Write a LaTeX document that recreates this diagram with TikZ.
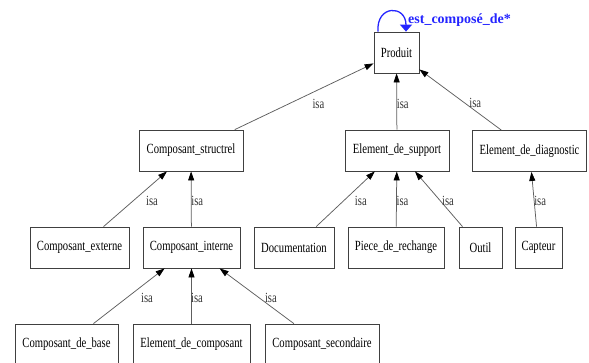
\documentclass[tikz,border=0pt]{standalone}
\usepackage{fontspec}
\setmainfont{Liberation Serif}[FakeStretch=0.76]
\newfontfamily\loopfont{Liberation Serif}
\usepackage{tikz}
\usetikzlibrary{arrows.meta,positioning}
\definecolor{boxline}{HTML}{404040}
\definecolor{edgegray}{HTML}{5E5E5E}
\definecolor{loopblue}{HTML}{2424FF}

\begin{document}
\begin{tikzpicture}[x=1pt, y=-1pt,
  cls/.style={draw=boxline, line width=0.8pt, fill=white, minimum height=41pt, inner sep=0pt, font=\fontsize{14}{16}\selectfont},
  isaedge/.style={draw=edgegray, line width=0.75pt, -{Triangle[length=9pt,width=6pt,color=black]}},
  isa/.style={font=\fontsize{14}{16}\selectfont, inner sep=0pt, text=black!80}]
  \useasboundingbox (0,0) rectangle (589,362);

  % Root class
  \node[cls, minimum width=45pt] (produit) at (396.5,52.5) {Produit};

  % Row 2: direct subclasses of Produit
  \node[cls, minimum width=104pt] (cstruct) at (191,150.5) {Composant\_structrel};
  \node[cls, minimum width=104pt] (esupport) at (397,150.5) {Element\_de\_support};
  \node[cls, minimum width=114pt] (ediag) at (529.5,151) {Element\_de\_diagnostic};

  % Row 3
  \node[cls, minimum width=99pt] (cext) at (79.5,247.5) {Composant\_externe};
  \node[cls, minimum width=97pt] (cint) at (191.5,247.5) {Composant\_interne};
  \node[cls, minimum width=80pt] (doc) at (294,247.5) {Documentation};
  \node[cls, minimum width=96pt] (piece) at (396,247.5) {Piece\_de\_rechange};
  \node[cls, minimum width=43pt] (outil) at (480.5,247.5) {Outil};
  \node[cls, minimum width=47pt] (capteur) at (538.5,247.5) {Capteur};

  % Row 4: subclasses of Composant_interne (cut by the page edge)
  \node[cls, minimum width=103pt] (cbase) at (66.5,344.5) {Composant\_de\_base};
  \node[cls, minimum width=117pt] (ecomp) at (191.5,344.5) {Element\_de\_composant};
  \node[cls, minimum width=114pt] (csec) at (322,344.5) {Composant\_secondaire};

  % isa links
  \draw[isaedge] (cstruct) -- node[isa, pos=0.39, xshift=29.5pt] (i1) {isa} (produit);
  \draw[isaedge] (esupport) -- node[isa, pos=0.456, xshift=6pt] (i2) {isa} (produit);
  \draw[isaedge] (ediag) -- node[isa, pos=0.453, xshift=11pt] (i3) {isa} (produit);

  \draw[isaedge] (cext) -- node[isa, pos=0.464, xshift=19pt] (i4) {isa} (cstruct);
  \draw[isaedge] (cint) -- node[isa, pos=0.464, xshift=6pt] (i5) {isa} (cstruct);
  \draw[isaedge] (doc) -- node[isa, pos=0.464, xshift=17.5pt] (i6) {isa} (esupport);
  \draw[isaedge] (piece) -- node[isa, pos=0.464, xshift=6pt] (i7) {isa} (esupport);
  \draw[isaedge] (outil) -- node[isa, pos=0.464, xshift=7.5pt] (i8) {isa} (esupport);
  \draw[isaedge] (capteur) -- node[isa, pos=0.464, xshift=6pt] (i9) {isa} (ediag);

  \draw[isaedge] (cbase) -- node[isa, pos=0.464, xshift=20.5pt] (i10) {isa} (cint);
  \draw[isaedge] (ecomp) -- node[isa, pos=0.464, xshift=5.5pt] (i11) {isa} (cint);
  \draw[isaedge] (csec) -- node[isa, pos=0.464, xshift=11.5pt] (i12) {isa} (cint);

  % Self loop on Produit
  \draw[loopblue, line width=1.3pt, -{Triangle[length=7pt,width=12pt]}]
    ([xshift=-18.5pt]produit.north) .. controls +(-2,-27) and +(0,-27) .. ([xshift=9.5pt]produit.north);
  \node[anchor=west, text=loopblue, inner sep=0pt, font=\loopfont\bfseries\fontsize{14}{16}\selectfont] (loopl) at (408,20) {est\_composé\_de*};
\end{tikzpicture}
\end{document}
